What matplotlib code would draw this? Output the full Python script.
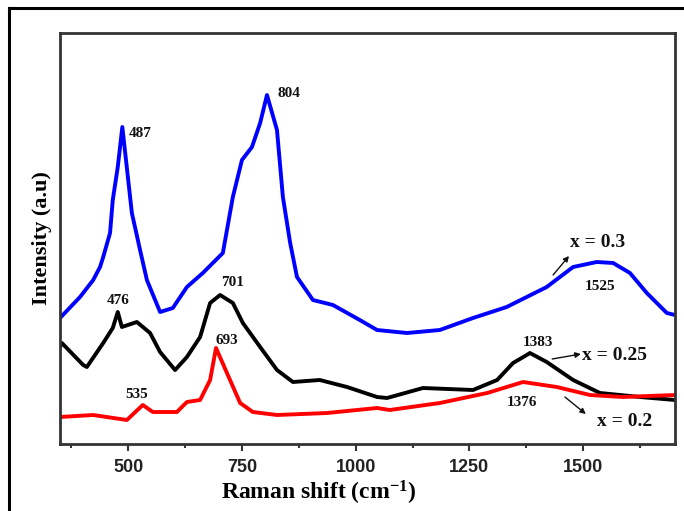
import matplotlib
matplotlib.use("Agg")
import matplotlib.pyplot as plt
from matplotlib.lines import Line2D

plt.rcParams["mathtext.fontset"] = "custom"
plt.rcParams["mathtext.rm"] = "Liberation Serif:bold"
plt.rcParams["mathtext.bf"] = "Liberation Serif:bold"
plt.rcParams["mathtext.it"] = "Liberation Serif:bold"

# Raman shift (cm^-1) and intensity (a.u.)
x_03 = [350, 394, 423, 438, 445, 460, 466, 477, 487, 508, 526, 541, 570, 598, 629, 664,
        708, 730, 750, 772, 790, 805, 827, 840, 856, 871, 906, 950, 1009, 1047, 1113,
        1185, 1258, 1332, 1420, 1478, 1530, 1566, 1603, 1640, 1684, 1702]
y_03 = [126, 147, 164, 177, 187, 211, 244, 277, 317, 231, 194, 164, 132, 136, 157, 171,
        191, 247, 284, 297, 321, 349, 314, 247, 201, 167, 144, 139, 124, 114, 111,
        114, 126, 137, 157, 177, 182, 181, 171, 151, 131, 129]

x_025 = [350, 354, 401, 409, 445, 466, 477, 486, 519, 548, 570, 603, 629, 658, 680, 702,
         730, 752, 790, 827, 862, 921, 981, 1047, 1069, 1148, 1258, 1311, 1346, 1376,
         1383, 1420, 1478, 1537, 1625, 1702]
y_025 = [97, 101, 79, 77, 101, 116, 132, 117, 122, 111, 92, 74, 87, 107, 141, 149,
         141, 121, 97, 74, 62, 64, 57, 47, 46, 56, 54, 64, 81, 89,
         91, 82, 64, 51, 47, 44]

x_02 = [350, 423, 497, 532, 554, 607, 629, 658, 680, 693, 717, 746, 774, 827, 937, 1047,
        1075, 1185, 1289, 1368, 1442, 1515, 1587, 1702]
y_02 = [27, 29, 24, 39, 32, 32, 42, 44, 64, 96, 71, 41, 32, 29, 31, 36,
        34, 41, 51, 62, 57, 49, 47, 49]

peak_labels = ["487", "804", "476", "701", "693", "535", "1525", "1383", "1376"]
peak_pos_x = [527, 853, 477, 730, 717, 519, 1537, 1401, 1365]
peak_pos_y = [311, 351, 143, 161, 104, 49, 157, 102, 41]

series_labels = ["x = 0.3", "x = 0.25", "x = 0.2"]
series_text_x = [1471, 1497, 1531]
series_text_y = [202, 89, 22]
arrow_start_x = [1434, 1432, 1460]
arrow_start_y = [169, 85, 47]
arrow_end_x = [1469, 1495, 1506]
arrow_end_y = [188, 90, 30]

xticks = [500, 750, 1000, 1250, 1500]
xminor = [375, 625, 875, 1125, 1375, 1625]

serif = "Liberation Serif"
sans = "Liberation Sans"

fig = plt.figure(figsize=(6.84, 5.11), dpi=100)
ax = fig.add_axes([60 / 684, 1 - 444 / 511, 615 / 684, 411 / 511])

ax.plot(x_03, y_03, color="#0000ff", lw=2.8)
ax.plot(x_025, y_025, color="#000000", lw=2.8)
ax.plot(x_02, y_02, color="#ff0000", lw=2.8)

ax.set_xlim(350, 1702)
ax.set_ylim(0, 411)
ax.set_yticks([])
ax.set_xticks(xticks)
ax.set_xticks(xminor, minor=True)
ax.tick_params(axis="x", which="major", direction="out", length=5, width=1.5,
               pad=6, color="#333333")
ax.tick_params(axis="x", which="minor", direction="out", length=3, width=1.5,
               color="#333333")
for lab in ax.get_xticklabels():
    lab.set_fontfamily(sans)
    lab.set_fontweight("bold")
    lab.set_fontsize(13)
    lab.set_color("#222222")

for s in ax.spines.values():
    s.set_linewidth(2)
    s.set_color("#333333")

ax.set_xlabel("Raman shift (cm$^{-1}$)", family=serif, fontweight="bold",
              fontsize=17, ha="center", va="center")
ax.xaxis.set_label_coords(0.42, -0.118)
ax.set_ylabel("Intensity (a.u)", family=serif, fontweight="bold", fontsize=16,
              ha="center", va="center")
ax.yaxis.set_label_coords(-0.03, 0.5)

for t, px, py in zip(peak_labels, peak_pos_x, peak_pos_y):
    ax.text(px, py, t, family=serif, fontweight="bold", fontsize=11,
            ha="center", va="center", color="#111111")

for t, tx, ty, sx, sy, ex, ey in zip(series_labels, series_text_x, series_text_y,
                                     arrow_start_x, arrow_start_y, arrow_end_x, arrow_end_y):
    ax.text(tx, ty, t, family=serif, fontweight="bold", fontsize=14,
            ha="left", va="center", color="#111111")
    ax.annotate("", xy=(ex, ey), xytext=(sx, sy),
                arrowprops=dict(arrowstyle="-|>", color="#111111", lw=1.0,
                                mutation_scale=8, shrinkA=0, shrinkB=0))

# outer frame (left and top edges only visible)
fig.add_artist(Line2D([9 / 684, 9 / 684], [0, 1 - 8 / 511], transform=fig.transFigure,
                      color="black", lw=2.2))
fig.add_artist(Line2D([9 / 684, 1], [1 - 8 / 511, 1 - 8 / 511], transform=fig.transFigure,
                      color="black", lw=2.2))

fig.savefig("out.png", dpi=100)
